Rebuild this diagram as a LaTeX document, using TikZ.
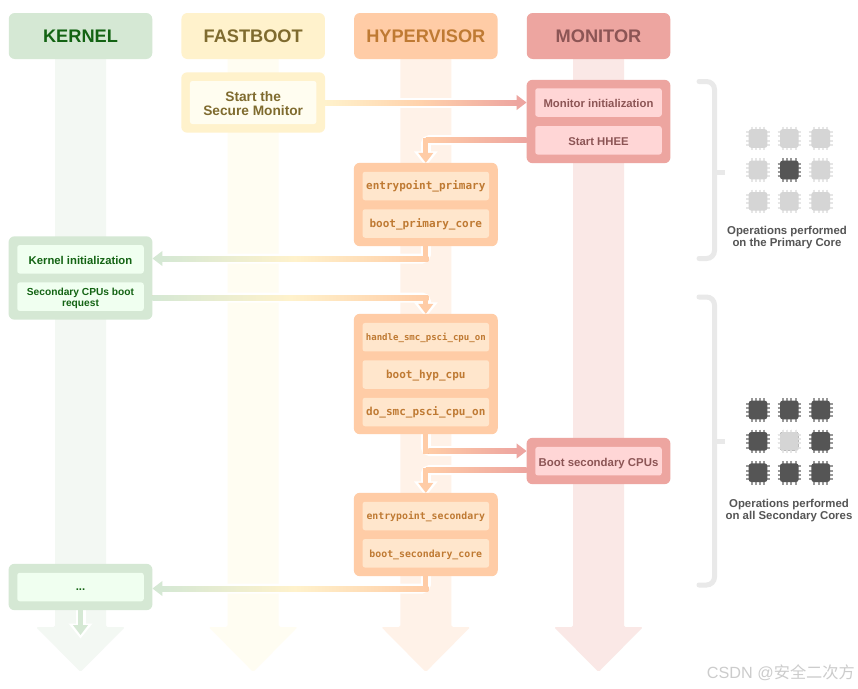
\documentclass[tikz,border=0pt]{standalone}
\usepackage{fontspec}
\setmainfont{Liberation Sans}
\newfontfamily\codefont{DejaVu Sans Mono}
\newfontfamily\cjkfont{Noto Sans CJK SC}
\usetikzlibrary{arrows.meta,calc}
\definecolor{kHead}{HTML}{D5E8D4}\definecolor{kInner}{HTML}{F0FFF0}\definecolor{kText}{HTML}{136313}\definecolor{kLane}{HTML}{F3F8F3}
\definecolor{fHead}{HTML}{FFF2CC}\definecolor{fInner}{HTML}{FFFDF0}\definecolor{fText}{HTML}{7F6B2F}\definecolor{fLane}{HTML}{FFFDF2}
\definecolor{hHead}{HTML}{FFCCA6}\definecolor{hInner}{HTML}{FFE6CC}\definecolor{hText}{HTML}{BF7A33}\definecolor{hLane}{HTML}{FFF2E8}
\definecolor{mHead}{HTML}{EDA5A0}\definecolor{mInner}{HTML}{FFD6D6}\definecolor{mText}{HTML}{8C5555}\definecolor{mLane}{HTML}{FAE8E6}
\definecolor{brace}{HTML}{E9E9E9}\definecolor{chipOn}{HTML}{555555}\definecolor{chipOff}{HTML}{D5D5D5}
\tikzset{
  header/.style={rounded corners=6pt,minimum width=143.5pt,minimum height=46pt,inner sep=0pt,text height=13.4pt,text depth=0pt,font=\fontsize{18.2}{20}\selectfont\bfseries},
  outer/.style={rounded corners=6pt,minimum width=143.5pt,inner sep=0pt},
  innerbase/.style={rounded corners=2.5pt,minimum width=126.5pt,minimum height=28.5pt,inner sep=0pt,align=center},
  inner/.style={innerbase,text height=9.7pt,text depth=0pt,font=\fontsize{11.3}{12}\selectfont\bfseries},
  code/.style={innerbase,text height=8pt,text depth=0.6pt,font=\fontsize{11}{12}\selectfont\codefont\bfseries},
  codesmall/.style={code,font=\fontsize{9.85}{12}\selectfont\codefont\bfseries},
  codetiny/.style={code,font=\fontsize{9.05}{12}\selectfont\codefont\bfseries},
  halo/.style={draw=white,line width=10pt,rounded corners=4pt,shorten >=-3.5pt,-{Triangle[length=15pt,width=23pt]}},
  link/.style={line width=5pt,-{Triangle[length=10pt,width=14.5pt]}},
  plainlink/.style={line width=5pt},
  bracket/.style={draw=brace,line width=5pt,rounded corners=8pt,line cap=round},
  caption/.style={align=center,text=chipOn,font=\fontsize{11.4}{12}\selectfont\bfseries},
  chip/.pic={
    \foreach \o in {-6.3,-2.1,2.1,6.3}{
      \draw[#1!60!white,line width=2pt] (\o,-11.8) -- (\o,11.8);
      \draw[#1!60!white,line width=2pt] (-11.8,\o) -- (11.8,\o);
    }
    \fill[#1,rounded corners=2.5pt] (-9.3,-9.3) rectangle (9.3,9.3);
  }
}
\begin{document}
\begin{tikzpicture}[x=1pt,y=-1pt]
\useasboundingbox (0,0) rectangle (858,688);
\fill[white] (0,0) rectangle (858,688);
% lanes
\foreach \c/\col in {80.5/kLane,253.2/fLane,425.8/hLane,598.5/mLane}{
  \fill[\col,rounded corners=1.5pt] (\c-25.5,50) -- (\c+25.5,50) -- (\c+25.5,627) -- (\c+44.5,627) -- (\c,672) -- (\c-44.5,627) -- (\c-25.5,627) -- cycle;
}
% named nodes (boxes are placed first so that connectors can refer to them, and drawn over them below)
\path
  (80.5,36) coordinate (kc) (253.2,36) coordinate (fc) (425.8,36) coordinate (hc) (598.5,36) coordinate (mc);
\node[outer,minimum height=60pt,fill=none] (fbBox) at (253.2,102.5) {};
\node[outer,minimum height=83pt,fill=none] (monBox) at (598.5,121.5) {};
\node[outer,minimum height=83pt,fill=none] (hypA) at (425.8,204.5) {};
\node[outer,minimum height=83pt,fill=none] (kerBox) at (80.5,278) {};
\node[outer,minimum height=120pt,fill=none] (hypB) at (425.8,374) {};
\node[outer,minimum height=46pt,fill=none] (bootBox) at (598.5,461) {};
\node[outer,minimum height=83pt,fill=none] (hypC) at (425.8,534.5) {};
\node[outer,minimum height=46pt,fill=none] (endBox) at (80.5,587) {};
\coordinate (endTip) at (80.5,635);
\coordinate (a) at (bootBox.west |- 0,451);
\coordinate (b) at (bootBox.west |- 0,470);
\coordinate (c) at (monBox.west |- 0,102.5);
\coordinate (d) at (monBox.west |- 0,140);
\coordinate (e) at (kerBox.east |- 0,258.5);
\coordinate (f) at (kerBox.east |- 0,297.5);
\coordinate (g) at (endBox.east |- 0,588.5);
% halos
\draw[halo] (fbBox.east |- c) -- (c);
\draw[halo] (d) -| (hypA.north);
\draw[halo] (hypA.south) |- (e);
\draw[halo] (f) -| (hypB.north);
\draw[halo] (hypB.south) |- (a);
\draw[halo] (b) -| (hypC.north);
\draw[halo] (hypC.south) |- (g);
\draw[halo] (endBox.south) -- (endTip);
% connectors
\draw[link,mHead] (fbBox.east |- c) -- (c);
\shade[left color=fHead,right color=mHead,middle color=hHead!85!fHead] (fbBox.east |- 0,100) rectangle (517,105);
\draw[link,hHead] (d) -| (hypA.north);
\shade[left color=hHead,right color=mHead] (hypA.north |- 0,137.5) rectangle (d |- 0,142.5);
\draw[link,mHead] (hypB.south) |- (a);
\draw[plainlink,hHead] (hypB.south) -- ++(0,19.5);
\shade[left color=hHead,right color=mHead] ($(hypB.south |- 0,448.5)+(2.5,0)$) rectangle (517,453.5);
\draw[link,hHead] (b) -| (hypC.north);
\shade[left color=hHead,right color=mHead] (hypC.north |- 0,467.5) rectangle (b |- 0,472.5);
\draw[link,kHead] (hypA.south) |- (e);
\draw[plainlink,hHead] (hypA.south) -- ++(0,15);
\shade[left color=kHead,right color=hHead,middle color=fHead] (162,256) rectangle ($(hypA.south |- 0,261)+(2.5,0)$);
\draw[link,hHead] (f) -| (hypB.north);
\shade[left color=kHead,right color=hHead,middle color=fHead] (f |- 0,295) rectangle ($(hypB.north |- 0,300)+(2.5,0)$);
\draw[link,kHead] (hypC.south) |- (g);
\draw[plainlink,hHead] (hypC.south) -- ++(0,15);
\shade[left color=kHead,right color=hHead,middle color=fHead] (162,586) rectangle ($(hypC.south |- 0,591)+(2.5,0)$);
\draw[link,kHead] (endBox.south) -- (endTip);
% headers
\node[header,fill=kHead,text=kText] (kerHead) at (kc) {KERNEL};
\node[header,fill=fHead,text=fText] (fbHead) at (fc) {FASTBOOT};
\node[header,fill=hHead,text=hText] (hypHead) at (hc) {HYPERVISOR};
\node[header,fill=mHead,text=mText] (monHead) at (mc) {MONITOR};
% boxes
\fill[fHead,rounded corners=6pt] (fbBox.south west) rectangle (fbBox.north east);
\fill[mHead,rounded corners=6pt] (monBox.south west) rectangle (monBox.north east);
\fill[hHead,rounded corners=6pt] (hypA.south west) rectangle (hypA.north east);
\fill[kHead,rounded corners=6pt] (kerBox.south west) rectangle (kerBox.north east);
\fill[hHead,rounded corners=6pt] (hypB.south west) rectangle (hypB.north east);
\fill[mHead,rounded corners=6pt] (bootBox.south west) rectangle (bootBox.north east);
\fill[hHead,rounded corners=6pt] (hypC.south west) rectangle (hypC.north east);
\fill[kHead,rounded corners=6pt] (endBox.south west) rectangle (endBox.north east);
% inner boxes
\node[innerbase,minimum height=43pt,fill=fInner,text=fText,font=\fontsize{13.7}{14.5}\selectfont\bfseries] (fbStart) at (253.2,102.5) {\rule{0pt}{11.8pt}Start the\\Secure Monitor};
\node[inner,fill=mInner,text=mText] (monInit) at (598.5,102.5) {Monitor initialization};
\node[inner,fill=mInner,text=mText] (hhee) at (598.5,140.3) {Start HHEE};
\node[code,fill=hInner,text=hText] (epPrim) at (425.8,186) {entrypoint\_primary};
\node[code,fill=hInner,text=hText] (bootPrim) at (425.8,223.5) {boot\_primary\_core};
\node[inner,fill=kInner,text=kText] (kerInit) at (80.5,259.3) {Kernel initialization};
\node[innerbase,fill=kInner,text=kText,font=\fontsize{10.2}{11}\selectfont\bfseries] (kerSec) at (80.5,296.7) {\rule{0pt}{10.5pt}Secondary CPUs boot\\request};
\node[codetiny,fill=hInner,text=hText] (hsmc) at (425.8,337.2) {handle\_smc\_psci\_cpu\_on};
\node[code,fill=hInner,text=hText] (bhyp) at (425.8,374.5) {boot\_hyp\_cpu};
\node[code,fill=hInner,text=hText] (dsmc) at (425.8,412) {do\_smc\_psci\_cpu\_on};
\node[inner,fill=mInner,text=mText,font=\fontsize{11.4}{12}\selectfont\bfseries] (bootSec) at (598.5,461.2) {Boot secondary CPUs};
\node[codesmall,fill=hInner,text=hText] (epSec) at (425.8,516) {entrypoint\_secondary};
\node[codesmall,fill=hInner,text=hText] (bootSecCore) at (425.8,553.3) {boot\_secondary\_core};
\node[inner,text height=7pt,fill=kInner,text=kText] (kerEnd) at (80.5,587) {...};
% brackets
\draw[bracket] (699,81.5) -- (714.5,81.5) -- (714.5,258.5) -- (699,258.5);
\draw[bracket,rounded corners=0pt,line cap=butt] (714.5,172) -- (725,172);
\draw[bracket] (699,297) -- (714.5,297) -- (714.5,585) -- (699,585);
\draw[bracket,rounded corners=0pt,line cap=butt] (714.5,441.7) -- (725,441.7);
% chips: primary group
\foreach \x in {758,789.3,820.7}\foreach \y in {138.5,170,201.3}{
  \pic at (\x,\y) {chip=chipOff};
}
\pic at (789.3,170) {chip=chipOn};
% chips: secondary group
\foreach \x in {758,789.3,820.7}\foreach \y in {410,441.3,472.7}{
  \pic at (\x,\y) {chip=chipOn};
}
\pic at (789.3,441.3) {chip=chipOff};
\node[caption] (capA) at (787,238) {Operations performed\\on the Primary Core};
\node[caption] (capB) at (789,510.3) {Operations performed\\on all Secondary Cores};
\node[anchor=east,inner sep=0pt,text=black!20,font=\fontsize{16.2}{17}\selectfont] (mark) at (855,673) {CSDN @{\cjkfont 安全二次方}};
\end{tikzpicture}
\end{document}
